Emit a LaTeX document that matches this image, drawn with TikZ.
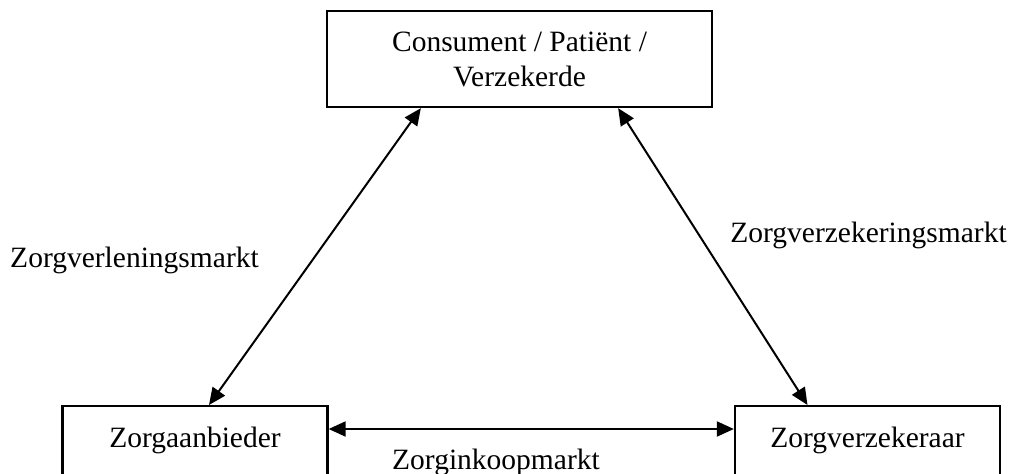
\documentclass[tikz,border=0pt]{standalone}
\usepackage{fontspec}
\setmainfont{Liberation Serif}
\usetikzlibrary{arrows.meta,calc}
\begin{document}
\begin{tikzpicture}[x=1pt,y=-1pt,
  box/.style={draw, line width=2.3pt, rectangle, inner sep=0pt},
  lowbox/.style={box, anchor=north, minimum width=265pt, text height=22pt, text depth=80pt, inner ysep=19pt},
  link/.style={line width=2pt, {Triangle[length=17pt,width=15pt]}-{Triangle[length=17pt,width=15pt]}},
  lbl/.style={anchor=base, inner sep=0pt},
  font=\fontsize{29.5}{35}\selectfont]
\clip (0,0) rectangle (1010,474);
\fill[white] (0,0) rectangle (1010,474);

% the three parties
\node[box, minimum width=385pt, minimum height=96pt, align=center] (cons) at (519.5,59) {Consument / Patiënt /\\ Verzekerde};
\node[lowbox] (aanb) at (195,405) {Zorgaanbieder};
\node[lowbox] (verz) at (867.5,405) {Zorgverzekeraar};

% connector end points on the box edges
\coordinate (c1) at ($(cons.south west)+(95,0)$);
\coordinate (c2) at ($(cons.south east)+(-95,0)$);
\coordinate (a1) at ($(aanb.north)+(14,0)$);
\coordinate (v1) at ($(verz.north)+(-60,0)$);
\coordinate (a2) at ($(aanb.north east)+(0,24)$);
\coordinate (v2) at ($(verz.north west)+(0,24)$);

% the three markets
\draw[link] (c1) -- (a1);
\draw[link] (c2) -- (v1);
\draw[link] (a2) -- (v2);

\node[lbl] (m1) at (134.5,267) {Zorgverleningsmarkt};
\node[lbl] (m2) at (868.5,242) {Zorgverzekeringsmarkt};
\node[lbl] (m3) at (496,469) {Zorginkoopmarkt};
\end{tikzpicture}
\end{document}
